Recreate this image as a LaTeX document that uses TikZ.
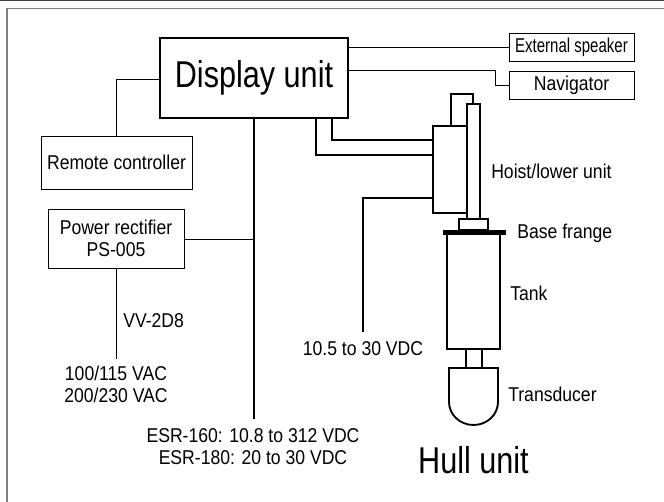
\documentclass[tikz,border=0pt]{standalone}
\usepackage{fontspec}
\setmainfont[FakeStretch=0.88]{Liberation Sans}
\newfontfamily\narrowfont[FakeStretch=0.75]{Liberation Sans}
\newfontfamily\bigfont[FakeStretch=0.82]{Liberation Sans}
\tikzset{
  thinbox/.style={draw,line width=0.6pt,rectangle,inner sep=0pt,align=center},
  thickbox/.style={draw,line width=1.5pt,rectangle,inner sep=0pt,align=center,fill=white},
  thinline/.style={line width=0.6pt},
  thickline/.style={line width=1.4pt},
  lab/.style={inner sep=0pt,font=\fontsize{15}{16.5}\selectfont,align=center},
  narrowlab/.style={inner sep=0pt,font=\fontsize{15}{16.5}\selectfont\narrowfont,align=center},
  biglab/.style={inner sep=0pt,font=\fontsize{28}{30}\selectfont\bigfont},
}
\begin{document}
\begin{tikzpicture}[x=0.75pt,y=-0.75pt]
     \useasboundingbox (0,0) rectangle (664,502);
     % page rules
     \draw[line width=1pt,black!75] (0,0.5) -- (664,0.5);
     \draw[line width=1pt,black!50] (664,8.5) -- (7,8.5) -- (7,502);
     % display unit and its neighbours
     \node[thickbox,biglab,minimum width=141pt,minimum height=60pt] (display) at (254,78) {Display unit};
     \node[thinbox,narrowlab,minimum width=93.75pt,minimum height=20.5pt] (speaker) at (571.5,47.5) {External speaker};
     \node[thinbox,lab,minimum width=93.75pt,minimum height=20.5pt] (navigator) at (571.5,85.5) {Navigator};
     \node[thinbox,lab,minimum width=113.25pt,minimum height=39.75pt] (remote) at (116.5,162.5) {Remote controller};
     \node[thinbox,lab,minimum width=102pt,minimum height=44.25pt] (rectifier) at (116,238.5) {Power rectifier\\PS-005};
     \coordinate (mains) at (116,359);
     \coordinate (dcend) at (254,419);
     \coordinate (dcjoin) at (254,239);
     \coordinate (navfrom) at (348,70);
     \coordinate (spkfrom) at (348,47.5);
     \coordinate (remfrom) at (160,79);
     \draw[thinline] (spkfrom) -- (speaker.west);
     \draw[thinline] (navfrom) -| (495,85.5) -- (navigator.west);
     \draw[thinline] (remfrom) -| (remote.north);
     \draw[thinline] (rectifier.south) -- (mains);
     \draw[thinline] (rectifier.east |- dcjoin) -- (dcjoin);
     \draw[thickline] (display.south) -- (dcend);
     % hull unit
     \node[thickbox,minimum width=25.5pt,minimum height=65.25pt] (hoist) at (450,169.5) {};
     \node[thickbox,minimum width=9.75pt,minimum height=86.25pt] (pole) at (473.5,161.5) {};
     \node[thickbox,line width=1.2pt,minimum width=21.75pt,minimum height=8.25pt] (collar) at (473.5,224.5) {};
     \node[draw,fill=black,line width=0.4pt,inner sep=0pt,minimum width=46.5pt,minimum height=3pt] (flange) at (474,232) {};
     \node[thickbox,minimum width=39.75pt,minimum height=86.25pt] (tank) at (473.5,291.5) {};
     \node[thickbox,minimum width=12pt,minimum height=14.25pt] (neck) at (474,358.5) {};
     \draw[thickline] (449,402) -- (449,368) -- (498,368) -- (498,402) arc[start angle=0,end angle=180,x radius=24.5,y radius=23];
     \coordinate (linkA) at (332,118);
     \coordinate (linkB) at (316,118);
     \coordinate (linkC) at (363,332);
     \coordinate (hoistA) at (433,140);
     \coordinate (hoistB) at (433,155);
     \coordinate (hoistC) at (433,198);
     \coordinate (loopA) at (451,126);
     \coordinate (loopB) at (473,104);
     \draw[thickline] (linkA) |- (hoistA);
     \draw[thickline] (linkB) |- (hoistB);
     \draw[thickline] (linkC) |- (hoistC);
     \draw[thickline] (loopA) |- (loopB |- 0,94) -- (loopB);
     % labels
     \node[lab,anchor=west] (hoistlab) at (491,171) {Hoist/lower unit};
     \node[lab,anchor=west] (flangelab) at (517,233) {Base frange};
     \node[lab,anchor=west] (tanklab) at (510,293) {Tank};
     \node[lab,anchor=west] (tdlab) at (508,394) {Transducer};
     \node[lab] (dclab) at (363,349) {10.5 to 30 VDC};
     \node[lab,anchor=west] (vvlab) at (123,321) {VV-2D8};
     \node[lab] (aclab) at (116,384) {100/115 VAC\\200/230 VAC};
     \node[lab] (esrlab) at (253,447) {ESR-160: 10.8 to 312 VDC\\ESR-180: 20 to 30 VDC};
     \node[biglab] (hull) at (473.5,460) {Hull unit};
\end{tikzpicture}
\end{document}
